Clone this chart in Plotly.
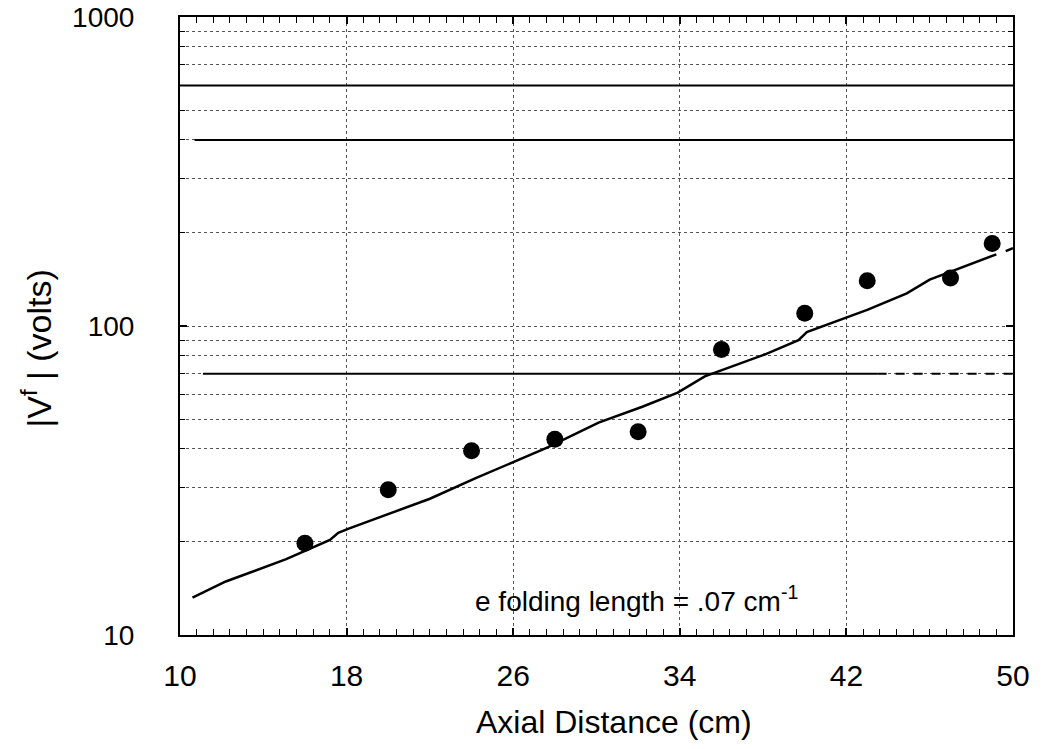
import plotly.graph_objects as go

# Measured data points (axial distance in cm, |V^f| in volts)
dist_cm = [16, 20, 24, 28, 32, 36, 40, 43, 47, 49]
volts = [19.8, 29.5, 39.5, 43, 45.5, 84, 110, 140, 143, 185]

# Hand-drawn exponential fit line
fit_x = [10.6, 12.2, 15.1, 17.2, 17.6, 18.1, 22.0, 24.2, 27.6, 30.1, 32.2, 33.9,
         35.2, 38.1, 39.7, 40.1, 43.0, 44.9, 46.0, 47.8, 49.2, None, 49.65, 50.0]
fit_y = [13.2, 14.9, 17.6, 20.3, 21.4, 22.1, 27.6, 32.2, 40.3, 48.7, 54.8, 60.9,
         68.7, 81.0, 90.0, 95.6, 112.8, 127.5, 141.3, 157, 170.6, None, 174.6, 178.6]

# Axis ticks
x_ticks = [10, 18, 26, 34, 42, 50]
y_ticks = [10, 100, 1000]
y_minor = [20, 30, 40, 50, 60, 70, 80, 90, 200, 300, 400, 500, 600, 700, 800, 900]

# Grid levels that are printed solid in the original
solid_levels = [600, 400, 70]
solid_x0 = [10, 10.7, 11.1]
solid_x1 = [50, 50, 43.5]

FONT = "Liberation Sans, Arial, sans-serif"
GRID = "#555"

fig = go.Figure()

fig.add_trace(go.Scatter(
    x=fit_x, y=fit_y, mode="lines",
    line=dict(color="black", width=2.5),
    connectgaps=False, showlegend=False, hoverinfo="skip",
))
fig.add_trace(go.Scatter(
    x=dist_cm, y=volts, mode="markers",
    marker=dict(color="black", size=17),
    showlegend=False,
))

for lvl, a, b in zip(solid_levels, solid_x0, solid_x1):
    fig.add_shape(type="line", xref="x", yref="y", x0=a, x1=b, y0=lvl, y1=lvl,
                  line=dict(color="black", width=2), layer="above")
# dashed continuation of the 70 line
fig.add_shape(type="line", xref="x", yref="y", x0=solid_x1[2], x1=50,
              y0=solid_levels[2], y1=solid_levels[2],
              line=dict(color="black", width=2, dash="dash"), layer="above")

fig.update_layout(
    width=1047, height=749,
    margin=dict(l=180, r=34, t=17, b=114),
    paper_bgcolor="white", plot_bgcolor="white",
    font=dict(family=FONT, color="black"),
    xaxis=dict(
        range=[10, 50], tickmode="array", tickvals=x_ticks,
        ticks="inside", ticklen=7, tickwidth=1.5, tickcolor="black",
        showline=True, linecolor="black", linewidth=2, mirror="allticks",
        showgrid=True, gridcolor=GRID, griddash="dot", gridwidth=1,
        zeroline=False, automargin=False,
        tickfont=dict(size=30, family=FONT),
        ticklabelstandoff=13,
        minor=dict(dtick=0.8, tick0=10, ticks="inside", ticklen=6,
                   tickcolor="black", tickwidth=1.2, showgrid=False),
    ),
    yaxis=dict(
        type="log", range=[1, 3], tickmode="array", tickvals=y_ticks,
        ticktext=["10", "100", "1000"],
        ticks="inside", ticklen=7, tickwidth=1.5, tickcolor="black",
        showline=True, linecolor="black", linewidth=2, mirror="allticks",
        showgrid=True, gridcolor=GRID, griddash="dot", gridwidth=1,
        zeroline=False, automargin=False,
        tickfont=dict(size=28, family=FONT),
        ticklabelstandoff=38,
        minor=dict(tickmode="array", tickvals=y_minor, ticks="inside", ticklen=5,
                   tickcolor="black", tickwidth=1.2, showgrid=True,
                   gridcolor=GRID, griddash="dot", gridwidth=1),
    ),
    annotations=[
        dict(text="Axial Distance (cm)", xref="paper", yref="paper",
             x=0.521, y=-0.14, xanchor="center", yanchor="middle",
             showarrow=False, font=dict(size=32, family=FONT)),
        dict(text="|V<sup>f</sup> | (volts)", xref="paper", yref="paper",
             x=-0.172, y=0.463, xanchor="center", yanchor="middle",
             textangle=-90, showarrow=False, font=dict(size=34, family=FONT)),
        dict(text="e folding length = .07 cm<sup>-1</sup>", xref="paper", yref="paper",
             x=0.352, y=0.058, xanchor="left", yanchor="middle",
             showarrow=False, font=dict(size=28, family=FONT)),
    ],
)

fig.write_html("out.html", config={"displayModeBar": False},
               post_script="document.body.style.margin='0';")
